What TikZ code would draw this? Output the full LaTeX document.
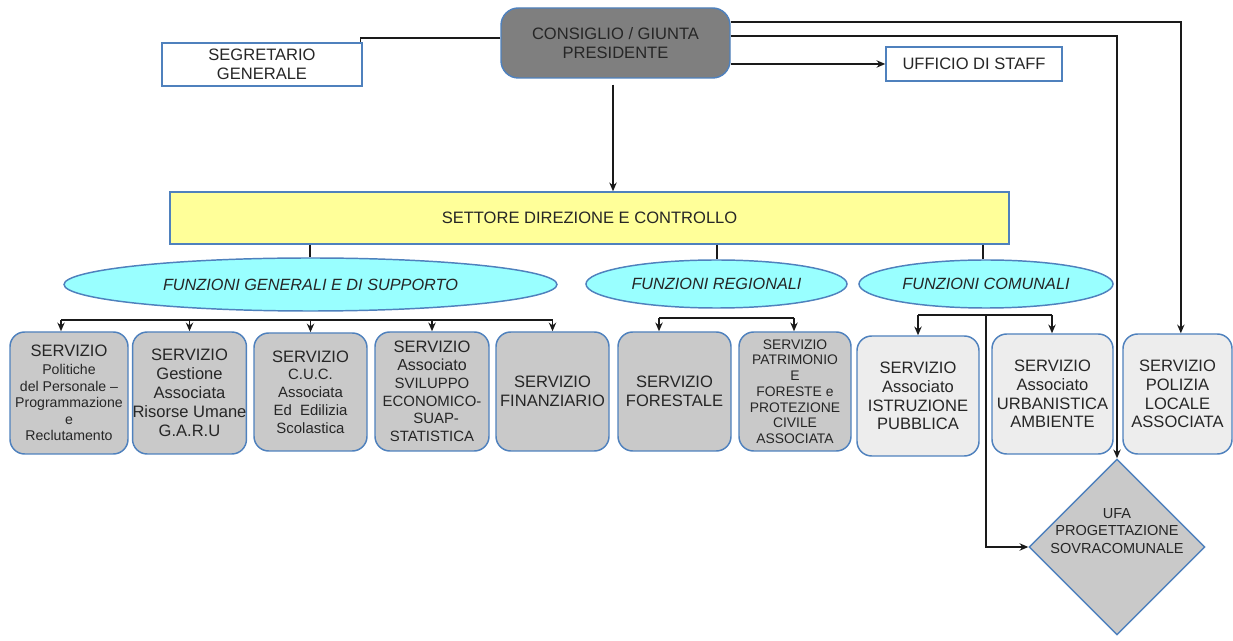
\documentclass[tikz,border=0pt]{standalone}
\usepackage{fontspec}
\setmainfont{Liberation Sans}
\usetikzlibrary{shapes.geometric,arrows.meta}
\definecolor{bblue}{HTML}{4F81BD}
\definecolor{consfill}{HTML}{7F7F7F}
\definecolor{gfill}{HTML}{C9C9C9}
\definecolor{lfill}{HTML}{EDEDED}
\definecolor{yfill}{HTML}{FFFF99}
\definecolor{cfill}{HTML}{99FFFF}
\definecolor{txt}{HTML}{262626}
\definecolor{lc}{HTML}{1A1A1A}
\tikzset{
  base/.style={draw=bblue, line width=1.1pt, text=txt, align=center, inner sep=0pt},
  srv/.style={base, rounded corners=11pt, fill=gfill},
  srvl/.style={base, rounded corners=11pt, fill=lfill},
  wbox/.style={base, fill=white},
  ell/.style={base, ellipse, fill=cfill, font=\fontsize{12.2pt}{14pt}\selectfont\itshape},
  conn/.style={draw=lc, line width=1.1pt},
  arr/.style={conn, -{Stealth[length=6.5pt,width=5.5pt]}},
}
\begin{document}
\begin{tikzpicture}[x=0.75pt,y=-0.75pt]
\useasboundingbox (0,0) rectangle (1233,641);

% top level
\node[base, fill=consfill, rounded corners=13pt, minimum width=171.75pt, minimum height=52.5pt,
  font=\fontsize{12.4pt}{14.25pt}\selectfont] (cons) at (615.5,43) {CONSIGLIO / GIUNTA\\PRESIDENTE};
\node[wbox, minimum width=150pt, minimum height=32.25pt,
  font=\fontsize{12.4pt}{14.25pt}\selectfont] (seg) at (262,64.5) {SEGRETARIO\\GENERALE};
\node[wbox, minimum width=132pt, minimum height=25.5pt,
  font=\fontsize{12.4pt}{14.25pt}\selectfont] (staff) at (974,64) {UFFICIO DI STAFF};

\node[base, fill=yfill, minimum width=629.25pt, minimum height=39pt,
  font=\fontsize{12.4pt}{14.25pt}\selectfont] (sett) at (589.5,218) {SETTORE DIREZIONE E CONTROLLO};

\node[ell, minimum width=369.75pt, minimum height=39.75pt] (e1) at (310.5,284.5) {FUNZIONI GENERALI E DI SUPPORTO};
\node[ell, minimum width=195.75pt, minimum height=36pt] (e2) at (716.5,284) {FUNZIONI REGIONALI};
\node[ell, minimum width=190.5pt, minimum height=36pt] (e3) at (986,284) {FUNZIONI COMUNALI};

% service boxes
\node[srv, minimum width=88.5pt, minimum height=91.5pt,
  font=\fontsize{10.6pt}{12.4pt}\selectfont] (b1) at (69,393)
  {{\fontsize{12.4pt}{14pt}\selectfont SERVIZIO}\\[1pt]Politiche\\del Personale --\\Programmazione\\e\\Reclutamento};
\node[srv, minimum width=84.75pt, minimum height=91.5pt,
  font=\fontsize{12.4pt}{14.25pt}\selectfont] (b2) at (189.5,393)
  {SERVIZIO\\Gestione\\Associata\\Risorse Umane\\G.A.R.U};
\node[srv, minimum width=84.75pt, minimum height=88.5pt,
  font=\fontsize{11.2pt}{13.3pt}\selectfont] (b3) at (310.5,392)
  {{\fontsize{12.4pt}{14pt}\selectfont SERVIZIO}\\C.U.C.\\Associata\\Ed\ \ Edilizia\\Scolastica};
\node[srv, minimum width=85.5pt, minimum height=89.25pt,
  font=\fontsize{11.2pt}{13.3pt}\selectfont] (b4) at (432,391.5)
  {{\fontsize{12.4pt}{14pt}\selectfont SERVIZIO}\\{\fontsize{12pt}{14pt}\selectfont Associato}\\SVILUPPO\\ECONOMICO-\\\ \ SUAP-\\STATISTICA};
\node[srv, minimum width=84.75pt, minimum height=89.25pt,
  font=\fontsize{12.4pt}{14.25pt}\selectfont] (b5) at (552.5,391.5) {SERVIZIO\\FINANZIARIO};
\node[srv, minimum width=84.75pt, minimum height=89.25pt,
  font=\fontsize{12.4pt}{14.25pt}\selectfont] (b6) at (674.5,391.5) {SERVIZIO\\FORESTALE};
\node[srv, minimum width=84pt, minimum height=89.25pt,
  font=\fontsize{10.4pt}{11.8pt}\selectfont] (b7) at (795,391.5)
  {SERVIZIO\\PATRIMONIO\\E\\FORESTE e\\PROTEZIONE\\CIVILE\\ASSOCIATA};
\node[srvl, minimum width=91.5pt, minimum height=90pt,
  font=\fontsize{12.4pt}{14pt}\selectfont] (b8) at (918,396)
  {SERVIZIO\\Associato\\ISTRUZIONE\\PUBBLICA};
\node[srvl, minimum width=90.75pt, minimum height=90pt,
  font=\fontsize{12.4pt}{14pt}\selectfont] (b9) at (1052.5,394)
  {SERVIZIO\\Associato\\URBANISTICA\\AMBIENTE};
\node[srvl, minimum width=81.75pt, minimum height=90pt,
  font=\fontsize{12.4pt}{14pt}\selectfont] (b10) at (1177.5,394)
  {SERVIZIO\\POLIZIA\\LOCALE\\ASSOCIATA};

% diamond
\node[base, diamond, aspect=1, fill=gfill, minimum width=132pt, minimum height=132pt] (dia) at (1117,547) {};
\node[text=txt, align=center, inner sep=0pt, font=\fontsize{10.9pt}{13pt}\selectfont] (dial) at (1117,531)
  {UFA\\PROGETTAZIONE\\SOVRACOMUNALE};

% connectors from the top
\draw[conn] (cons.west |- 0,38) -| ([xshift=-1.5pt]seg.north east);
\draw[arr] (cons.east |- 0,64) -- (staff.west);
\draw[arr] (cons.east |- 0,22) -| ([xshift=2.5pt]b10.north);
\draw[arr] (cons.east |- 0,36) -| (dia.north);
\draw[arr, shorten <=4.5pt] (cons.south -| 613,0) -- (sett.north -| 613,0);

% settore to ellipses
\draw[conn] (sett.south -| 310,0) -- (e1.north -| 310,0);
\draw[conn] (sett.south -| 717,0) -- (e2.north -| 717,0);
\draw[conn] (sett.south -| 983,0) -- (e3.north -| 983,0);

% bus 1
\coordinate (bus1L) at (61,320);
\coordinate (bus1R) at (553,320);
\draw[conn] (bus1L) -- (bus1R);
\draw[arr] (bus1L) -- (b1.north -| bus1L);
\draw[arr] (b2.north |- bus1L) -- (b2.north);
\draw[arr] (b3.north |- bus1L) -- (b3.north);
\draw[arr] (b4.north |- bus1L) -- (b4.north);
\draw[arr] (b5.north |- bus1L) -- (b5.north);

% bus 2
\coordinate (bus2L) at (659,318);
\coordinate (bus2R) at (794,318);
\draw[conn] (bus2L) -- (bus2R);
\draw[arr] (bus2L) -- (b6.north -| bus2L);
\draw[arr] (bus2R) -- (b7.north -| bus2R);

% bus 3
\coordinate (bus3L) at (918,315);
\coordinate (bus3R) at (1052,315);
\coordinate (bus3M) at (986,315);
\draw[conn] (bus3L) -- (bus3R);
\draw[arr] (bus3L) -- (b8.north -| bus3L);
\draw[arr] (bus3R) -- (b9.north -| bus3R);
\draw[arr] (bus3M) |- (dia.west);
\end{tikzpicture}
\end{document}
